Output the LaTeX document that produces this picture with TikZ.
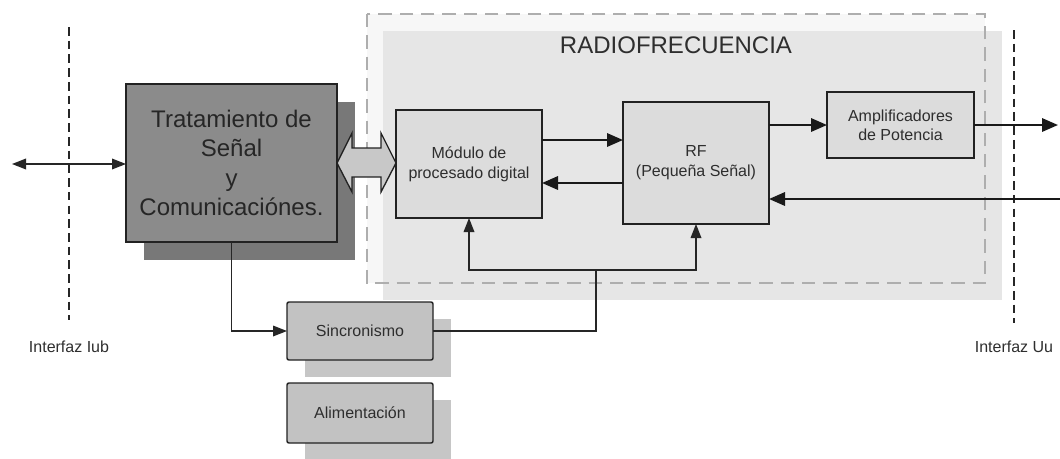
\documentclass[tikz,border=0pt]{standalone}
\usepackage{fontspec}
\setmainfont{Liberation Sans}
\usetikzlibrary{arrows.meta,calc}
\pgfdeclarelayer{bg}
\pgfdeclarelayer{shadowlayer}
\pgfsetlayers{bg,shadowlayer,main}
\definecolor{txt}{HTML}{2E2E2E}
\definecolor{edge}{HTML}{222222}
\definecolor{tratfill}{HTML}{8B8B8B}
\definecolor{tratshadow}{HTML}{787878}
\definecolor{boxfill}{HTML}{DCDCDC}
\definecolor{boxshadow}{HTML}{999999}
\definecolor{auxfill}{HTML}{C2C2C2}
\definecolor{auxshadow}{HTML}{C6C6C6}
\definecolor{regionfill}{HTML}{E6E6E6}
\definecolor{outerfill}{HTML}{F7F7F7}
\definecolor{dashcol}{HTML}{AEAEAE}
\definecolor{busarrow}{HTML}{C8C8C8}
\tikzset{
  blockbox/.style={draw=edge, line width=1.1pt, outer sep=0pt, inner sep=2pt,
    align=center, text=txt, font=\fontsize{12}{15}\selectfont},
  bigarrow/.style={draw=black!90, line width=1.7pt, -{Triangle[length=12pt,width=10pt]}},
  thinline/.style={draw=black!85, line width=0.95pt},
  thinarrow/.style={thinline, -{Triangle[length=10.5pt,width=8pt]}},
  ifline/.style={draw=black!85, line width=1.3pt, dash pattern=on 6.5pt off 3.8pt},
  iflabel/.style={text=txt, font=\fontsize{12}{14}\selectfont, inner sep=0pt}
}
\begin{document}
\begin{tikzpicture}[x=0.75pt,y=-0.75pt]
\useasboundingbox (0,0) rectangle (1060,458);

% RF region
\fill[outerfill] (367,14) rectangle (985,283);
\fill[regionfill] (383,31) rectangle (1002,300);
\draw[dashcol, line width=1.2pt, dash pattern=on 10pt off 6pt] (367,14) rectangle (985,283);
\node[text=txt, font=\fontsize{18}{22}\selectfont, inner sep=0pt] (rftitle) at (676,45) {RADIOFRECUENCIA};

% interfaces
\coordinate (iubtop) at (69,27);
\coordinate (iubbot) at (69,320);
\draw[ifline] (iubtop) -- (iubbot);
\node[iflabel] (iub) at (69,347) {Interfaz Iub};
\coordinate (uutop) at (1014,30);
\coordinate (uubot) at (1014,323);
\draw[ifline] (uutop) -- (uubot);
\node[iflabel] (uu) at (1014,347) {Interfaz Uu};

% blocks
\node[blockbox, fill=tratfill, minimum width={0.75pt*211}, minimum height={0.75pt*158},
  font=\fontsize{18}{21.9}\selectfont, text=black!85] (trat) at (231.5,163)
  {Tratamiento de\\Señal\\y\\Comunicaciónes.};
\node[blockbox, fill=boxfill, minimum width={0.75pt*146}, minimum height={0.75pt*108}] (mod) at (469,164)
  {Módulo de\\procesado digital};
\node[blockbox, fill=boxfill, minimum width={0.75pt*146}, minimum height={0.75pt*122}] (rf) at (696,163)
  {RF\\(Pequeña Señal)};
\node[blockbox, fill=boxfill, minimum width={0.75pt*147}, minimum height={0.75pt*66},
  font=\fontsize{12}{14}\selectfont] (amp) at (900.5,125)
  {Amplificadores\\de Potencia};
\node[blockbox, fill=auxfill, rounded corners=1.5pt, minimum width={0.75pt*146}, minimum height={0.75pt*58}] (sinc) at (360,331)
  {Sincronismo};
\node[blockbox, fill=auxfill, rounded corners=1.5pt, minimum width={0.75pt*146}, minimum height={0.75pt*60}] (alim) at (360,413)
  {Alimentación};

% shadows
\begin{pgfonlayer}{shadowlayer}
  \fill[tratshadow] ([shift={(18,18)}]trat.south west) rectangle ([shift={(18,18)}]trat.north east);
  \fill[boxshadow] ([shift={(18,17)}]mod.south west) rectangle ([shift={(18,17)}]mod.north east);
  \fill[boxshadow] ([shift={(18,18)}]rf.south west) rectangle ([shift={(18,18)}]rf.north east);
  \fill[boxshadow] ([shift={(18,18)}]amp.south west) rectangle ([shift={(18,18)}]amp.north east);
  \fill[auxshadow] ([shift={(18,17)}]sinc.south west) rectangle ([shift={(18,17)}]sinc.north east);
  \fill[auxshadow] ([shift={(18,17)}]alim.south west) rectangle ([shift={(18,17)}]alim.north east);
\end{pgfonlayer}

% hollow double arrow between trat and mod
\begin{scope}[shift={(trat.east)}]
  \filldraw[fill=busarrow, draw=edge, line width=1pt, line join=miter]
    (0,0) -- (15,-30) -- (15,-15) -- (44,-15) -- (44,-30) -- (59,0)
    -- (44,29) -- (44,14) -- (15,14) -- (15,29) -- cycle;
\end{scope}

% left double arrow
\coordinate (lft) at (12,164);
\draw[thinarrow, {Triangle[length=10.5pt,width=8pt]}-{Triangle[length=10.5pt,width=8pt]}] (lft) -- (lft -| trat.west);

% mod <-> rf
\coordinate (a1) at ($(mod.east)+(0,-24)$);
\draw[bigarrow] (a1) -- (a1 -| rf.west);
\coordinate (a2) at ($(mod.east)+(0,19)$);
\draw[bigarrow] (a2 -| rf.west) -- (a2);

% rf -> amp -> out
\draw[bigarrow] (amp.west -| rf.east) -- (amp.west);
\coordinate (out) at (1058,125);
\draw[bigarrow] (amp.east) -- (out);

% incoming to rf
\coordinate (in) at (1062,199);
\draw[bigarrow] (in) -- (in -| rf.east);

% trat -> sinc
\draw[thinarrow] (trat.south) |- (sinc.west);

% sinc bus
\coordinate (bus) at (596,270);
\draw[thinline] (sinc.east) -| (bus);
\draw[thinarrow] (bus) -| (mod.south);
\draw[thinarrow] (bus) -| (rf.south);
\end{tikzpicture}
\end{document}
